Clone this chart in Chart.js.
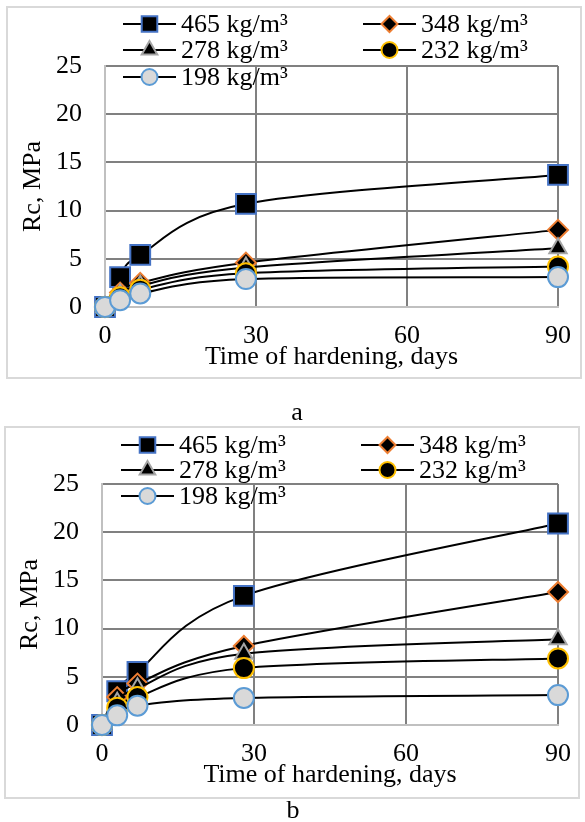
<!DOCTYPE html>
<html lang="en">
<head>
<meta charset="UTF-8">
<title>Rc vs time of hardening</title>
<script src="https://cdn.jsdelivr.net/npm/chart.js"></script>
<style>
  body { margin: 0; background: #fff; width: 585px; height: 822px; position: relative; overflow: hidden; font-family: 'Liberation Serif', serif; }
  .box { position: absolute; border: 2px solid #d9d9d9; box-sizing: border-box; }
  canvas { position: absolute; left: 0; }
  .cap { position: absolute; font-size: 26px; line-height: 26px; transform: translate(-50%, -50%); color: #000; }
</style>
</head>
<body>

<div class="box" style="left:6px;top:6px;width:576px;height:373px"></div>
<canvas id="chartA" width="585" height="400" style="top:0"></canvas>
<div class="cap" style="left:297px;top:412px">a</div>

<div class="box" style="left:4px;top:426px;width:576px;height:373px"></div>
<canvas id="chartB" width="585" height="400" style="top:420px"></canvas>
<div class="cap" style="left:293px;top:810px">b</div>

<script>
// time of hardening, days
const days = [0, 3, 7, 28, 90];
const seriesNames = ['465 kg/m³', '348 kg/m³', '278 kg/m³', '232 kg/m³', '198 kg/m³'];

// Rc, MPa - chart a
const rcA465 = [0, 3.1, 5.4, 10.7, 13.7];
const rcA348 = [0, 1.5, 2.5, 4.6, 8.0];
const rcA278 = [0, 1.3, 2.2, 4.1, 6.1];
const rcA232 = [0, 1.0, 1.8, 3.5, 4.2];
const rcA198 = [0, 0.7, 1.4, 2.9, 3.1];

// Rc, MPa - chart b
const rcB465 = [0, 3.5, 5.5, 13.4, 20.9];
const rcB348 = [0, 2.9, 4.3, 8.2, 13.8];
const rcB278 = [0, 2.3, 3.8, 7.4, 8.9];
const rcB232 = [0, 1.8, 2.9, 5.9, 6.9];
const rcB198 = [0, 1.0, 2.0, 2.8, 3.1];

const xTicks = [0, 30, 60, 90];
const yTicks = [0, 5, 10, 15, 20, 25];

// marker look, one per series
const markerStyle = ['rect', 'rectRot', 'triangle', 'circle', 'circle'];
const markerFill = ['#000000', '#000000', '#000000', '#000000', '#d9d9d9'];
const markerEdge = ['#4472c4', '#ed7d31', '#a5a5a5', '#ffc000', '#5b9bd5'];
const markerSize = [14, 10, 10, 10, 10];
const legendSize = [11, 8, 9, 8, 8];

const FONT = 'Liberation Serif';

// Excel style smoothing: control points at 1/6 of the neighbour chord
const excelSmooth = {
  id: 'excelSmooth',
  beforeDatasetDraw(chart, args) {
    const pts = args.meta.data;
    const n = pts.length;
    for (let i = 0; i < n; i++) {
      const p = pts[i];
      const prev = pts[Math.max(i - 1, 0)];
      const next = pts[Math.min(i + 1, n - 1)];
      const dx = (next.x - prev.x) / 6;
      const dy = (next.y - prev.y) / 6;
      p.cp1x = p.x - dx; p.cp1y = p.y - dy;
      p.cp2x = p.x + dx; p.cp2y = p.y + dy;
    }
    args.meta.dataset._pointsUpdated = true;
  }
};

// two-column legend like the Excel one
const gridLegend = {
  id: 'gridLegend',
  afterDraw(chart, args, opts) {
    const ctx = chart.ctx;
    ctx.save();
    chart.data.datasets.forEach((ds, i) => {
      const x = opts.cols[i % 2];
      const y = opts.rows[Math.floor(i / 2)];
      ctx.strokeStyle = '#000';
      ctx.lineWidth = 2;
      ctx.beginPath();
      ctx.moveTo(x, y);
      ctx.lineTo(x + opts.lineLen, y);
      ctx.stroke();
      ctx.fillStyle = markerFill[i];
      ctx.strokeStyle = markerEdge[i];
      ctx.lineWidth = 2;
      Chart.helpers.drawPoint(ctx, { pointStyle: markerStyle[i], radius: legendSize[i], borderWidth: 2, rotation: 0 },
        x + opts.lineLen / 2, y);
      ctx.fillStyle = '#000';
      ctx.font = '26px "' + FONT + '"';
      ctx.textBaseline = 'middle';
      ctx.textAlign = 'left';
      ctx.fillText(ds.label, x + opts.lineLen + 5, y + 1);
    });
    ctx.restore();
  }
};

function gridColor(c) {
  return c.tick && c.tick.value === 0 ? '#c0c0c0' : '#808080';
}

function makeChart(id, series, pad, legendPos) {
  const datasets = series.map((vals, i) => ({
    label: seriesNames[i],
    data: days.map((d, j) => ({ x: d, y: vals[j] })),
    borderColor: '#000',
    borderWidth: 2,
    backgroundColor: markerFill[i],
    pointBackgroundColor: markerFill[i],
    pointBorderColor: markerEdge[i],
    pointBorderWidth: 2,
    pointStyle: markerStyle[i],
    pointRadius: markerSize[i],
    pointHoverRadius: markerSize[i],
    tension: 0.35,
    clip: false,
    order: 5 - i
  }));

  return new Chart(document.getElementById(id), {
    type: 'line',
    data: { datasets },
    options: {
      responsive: false,
      animation: false,
      devicePixelRatio: 1,
      layout: { padding: pad },
      plugins: {
        legend: { display: false },
        tooltip: { enabled: false },
        gridLegend: legendPos
      },
      scales: {
        x: {
          type: 'linear', min: 0, max: 90,
          afterBuildTicks: s => { s.ticks = xTicks.map(v => ({ value: v })); },
          afterFit: s => { s.height = 70; },
          ticks: { padding: 14, color: '#000', maxRotation: 0, font: { family: FONT, size: 26 } },
          grid: { drawTicks: false, color: gridColor, lineWidth: 2 },
          border: { color: '#c0c0c0', width: 2 },
          title: {
            display: true, text: 'Time of hardening, days', color: '#000',
            font: { family: FONT, size: 26, lineHeight: 1 },
            padding: { top: 0, bottom: 7 }
          }
        },
        y: {
          min: 0, max: 25,
          afterBuildTicks: s => { s.ticks = yTicks.map(v => ({ value: v })); },
          afterFit: s => { s.width = 90; },
          ticks: { padding: 23, color: '#000', font: { family: FONT, size: 26 } },
          grid: { drawTicks: false, color: gridColor, lineWidth: 2 },
          border: { color: '#c0c0c0', width: 2 },
          title: {
            display: true, text: 'Rc, MPa', color: '#000',
            font: { family: FONT, size: 26, lineHeight: 1 },
            padding: { top: 5, bottom: 0 }
          }
        }
      }
    },
    plugins: [excelSmooth, gridLegend]
  });
}

makeChart('chartA', [rcA465, rcA348, rcA278, rcA232, rcA198],
  { left: 15, right: 23, top: 66, bottom: 23 },
  { cols: [123, 363], rows: [24, 50, 77], lineLen: 53 });

makeChart('chartB', [rcB465, rcB348, rcB278, rcB232, rcB198],
  { left: 12, right: 26, top: 64, bottom: 25 },
  { cols: [121, 361], rows: [25, 50, 76], lineLen: 53 });
</script>

</body>
</html>
